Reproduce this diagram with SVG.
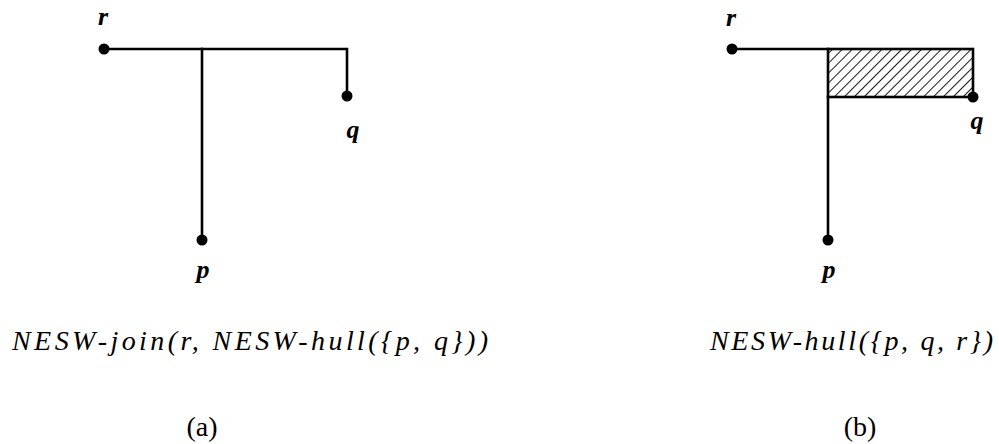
<svg xmlns="http://www.w3.org/2000/svg" width="999" height="444" viewBox="0 0 999 444">
<style>
.ln{stroke:#000;stroke-width:2.6;fill:none;stroke-linecap:square}
.dot{fill:#000}
.lbl{font-family:"Liberation Serif",serif;font-style:italic;font-weight:bold;font-size:26px;text-anchor:middle;fill:#000}
.expr{font-family:"Liberation Serif",serif;font-style:italic;font-size:28px;fill:#000}
.cap{font-family:"Liberation Serif",serif;font-size:28px;text-anchor:middle;fill:#000}
</style>
<defs>
<pattern id="hatch" patternUnits="userSpaceOnUse" width="7" height="7" patternTransform="rotate(45)">
<line x1="0" y1="0" x2="0" y2="7" stroke="#000" stroke-width="1.8"/>
</pattern>
</defs>
<g id="connectors">
<path class="ln" d="M104,49 H347 V96"/>
<path class="ln" d="M202,49 V240"/>
<path class="ln" d="M732,49 H828"/>
<rect x="828" y="49" width="145" height="48" fill="url(#hatch)" stroke="#000" stroke-width="2.6"/>
<path class="ln" d="M828,97 V240"/>
</g>
<g id="a-r"><circle class="dot" cx="104" cy="49" r="5.5"/><text class="lbl" x="103" y="25">r</text></g>
<g id="a-q"><circle class="dot" cx="347" cy="96" r="5.5"/><text class="lbl" x="353" y="138">q</text></g>
<g id="a-p"><circle class="dot" cx="202" cy="240" r="5.5"/><text class="lbl" x="203" y="278">p</text></g>
<g id="b-r"><circle class="dot" cx="732" cy="49" r="5.5"/><text class="lbl" x="731" y="26">r</text></g>
<g id="b-q"><circle class="dot" cx="973" cy="97" r="5.5"/><text class="lbl" x="977" y="129">q</text></g>
<g id="b-p"><circle class="dot" cx="828" cy="240" r="5.5"/><text class="lbl" x="829" y="278">p</text></g>
<g id="captions">
<text class="expr" x="12" y="350" textLength="476" lengthAdjust="spacing">NESW-join(r, NESW-hull({p, q}))</text>
<text class="expr" x="710" y="350" textLength="283" lengthAdjust="spacing">NESW-hull({p, q, r})</text>
<text class="cap" x="202" y="436">(a)</text>
<text class="cap" x="860" y="436">(b)</text>
</g>
</svg>
